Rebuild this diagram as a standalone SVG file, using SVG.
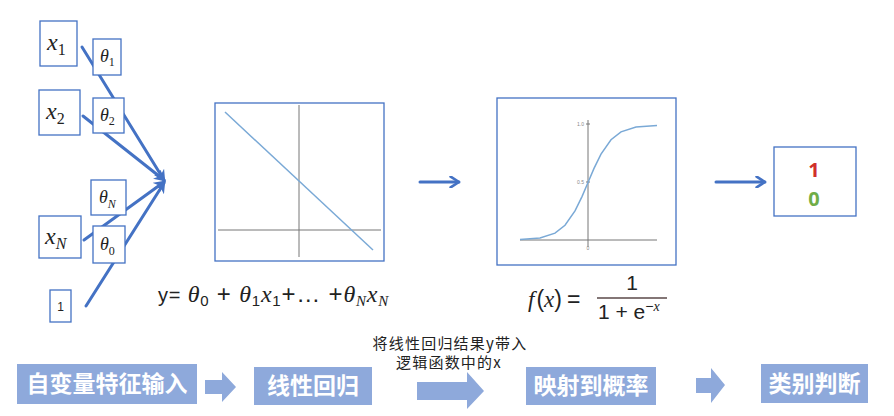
<svg xmlns="http://www.w3.org/2000/svg" width="894" height="416" viewBox="0 0 894 416">
<defs>
<style>
.box{fill:#fff;stroke:#4472C4;stroke-width:1.3}
.conn{stroke:#4472C4;stroke-width:3;fill:none;stroke-linecap:round}
.mx{font-family:"Liberation Serif",serif;font-style:italic;fill:#222}
.num{font-family:"Liberation Sans",sans-serif;fill:#222}
.axis{stroke:#777;stroke-width:1}
.curve{stroke:#7aa9d6;stroke-width:1.5;fill:none}
.step{fill:#8EA9DB}
.steptxt{font-family:"Noto Sans CJK SC",sans-serif;font-weight:bold;font-size:23px;fill:#fff;text-anchor:middle}
.note{font-family:"Noto Sans CJK SC",sans-serif;font-size:15px;letter-spacing:1.2px;fill:#222;text-anchor:middle}
.tick{font-family:"Liberation Sans",sans-serif;font-size:5px;fill:#888}
</style>
<marker id="ah" viewBox="0 0 10 10" refX="8" refY="5" markerWidth="4" markerHeight="4" orient="auto" markerUnits="strokeWidth">
<path d="M0,0 L10,5 L0,10 L3,5 Z" fill="#4472C4"/>
</marker>
<marker id="av" viewBox="0 0 10 10" refX="9" refY="5" markerWidth="4" markerHeight="4" orient="auto" markerUnits="strokeWidth">
<path d="M2,0.5 L9,5 L2,9.5" fill="none" stroke="#4472C4" stroke-width="2.2" stroke-linecap="round" stroke-linejoin="round"/>
</marker>
</defs>
<rect width="894" height="416" fill="#fff"/>

<g id="connectors">
<line class="conn" x1="82" y1="47" x2="164" y2="180" marker-end="url(#ah)"/>
<line class="conn" x1="83" y1="116" x2="164" y2="180" marker-end="url(#ah)"/>
<line class="conn" x1="84" y1="240" x2="164" y2="182" marker-end="url(#ah)"/>
<line class="conn" x1="86" y1="306" x2="164" y2="183" marker-end="url(#ah)"/>
<line class="conn" x1="420" y1="182" x2="459" y2="182" marker-end="url(#av)"/>
<line class="conn" x1="716" y1="182" x2="765" y2="182" marker-end="url(#av)"/>
</g>

<g id="x1"><rect class="box" x="40" y="21" width="37" height="45"/><text class="mx" x="47" y="50" font-size="24">x<tspan font-size="16" dy="5" font-style="normal">1</tspan></text></g>
<g id="theta1"><rect class="box" x="93" y="39" width="28" height="36"/><text class="mx" x="100" y="62" font-size="18">θ<tspan font-size="12" dy="4" font-style="normal">1</tspan></text></g>
<g id="x2"><rect class="box" x="39" y="90" width="41" height="45"/><text class="mx" x="46" y="119" font-size="24">x<tspan font-size="16" dy="5" font-style="normal">2</tspan></text></g>
<g id="theta2"><rect class="box" x="93" y="98" width="31" height="35"/><text class="mx" x="100" y="121" font-size="18">θ<tspan font-size="12" dy="4" font-style="normal">2</tspan></text></g>
<g id="thetaN"><rect class="box" x="91" y="180" width="35" height="35"/><text class="mx" x="99" y="203" font-size="18">θ<tspan font-size="12" dy="5">N</tspan></text></g>
<g id="xN"><rect class="box" x="39" y="216" width="42" height="42"/><text class="mx" x="45" y="244" font-size="24">x<tspan font-size="16" dy="5">N</tspan></text></g>
<g id="theta0"><rect class="box" x="93" y="226" width="32" height="37"/><text class="mx" x="100" y="250" font-size="18">θ<tspan font-size="12" dy="5" font-style="normal">0</tspan></text></g>
<g id="one"><rect class="box" x="50" y="290" width="21" height="32"/><text class="num" x="60.5" y="311" font-size="12" text-anchor="middle">1</text></g>

<g id="linear">
<rect class="box" x="215" y="103" width="169" height="158"/>
<line class="axis" x1="299" y1="105" x2="299" y2="257"/>
<line class="axis" x1="218" y1="230" x2="381" y2="230"/>
<line x1="225" y1="112" x2="373" y2="250" stroke="#7aa9d6" stroke-width="1.5"/>
<text x="158" y="302" font-size="24" letter-spacing="0.8"><tspan class="num" font-size="20">y= </tspan><tspan class="mx">θ</tspan><tspan class="num" font-size="15" dy="4">0</tspan><tspan class="num" dy="-4"> + </tspan><tspan class="mx">θ</tspan><tspan class="num" font-size="15" dy="4">1</tspan><tspan class="mx" dy="-4">x</tspan><tspan class="num" font-size="15" dy="4">1</tspan><tspan class="num" dy="-4">+… +</tspan><tspan class="mx">θ</tspan><tspan class="mx" font-size="15" dy="4">N</tspan><tspan class="mx" dy="-4">x</tspan><tspan class="mx" font-size="15" dy="4">N</tspan></text>
</g>

<g id="sigmoid">
<rect class="box" x="497" y="98" width="179" height="167"/>
<line class="axis" x1="588" y1="120" x2="588" y2="247"/>
<line class="axis" x1="520" y1="240" x2="657" y2="240"/>
<line class="axis" x1="586" y1="124" x2="590" y2="124" stroke-width="0.6"/>
<line class="axis" x1="586" y1="182" x2="590" y2="182" stroke-width="0.6"/>
<text class="tick" x="584" y="126" text-anchor="end">1.0</text>
<text class="tick" x="584" y="184" text-anchor="end">0.5</text>
<text class="tick" x="588" y="250" text-anchor="middle">0</text>
<path class="curve" d="M520,239.6 L540,237.9 L555,233.1 L565,225.3 L575,210.9 L582,196.6 L588,182.5 L594,168.4 L601,154.1 L611,139.7 L621,131.9 L636,127.1 L657,125.4"/>
<text x="528" y="307" font-size="23"><tspan class="mx">f</tspan><tspan class="num" fill="#7f6060" dx="2">(</tspan><tspan class="mx">x</tspan><tspan class="num" fill="#7f6060">)</tspan><tspan class="num" dx="5">=</tspan></text>
<line x1="597" y1="298" x2="667" y2="298" stroke="#5a4848" stroke-width="1.6"/>
<text class="num" x="632" y="290" font-size="21" text-anchor="middle">1</text>
<text x="598" y="319" font-size="21"><tspan class="num">1 + e</tspan><tspan class="num" font-size="14" dy="-8">−</tspan><tspan class="mx" font-size="14">x</tspan></text>
</g>

<g id="output">
<rect class="box" x="774" y="147" width="82" height="69"/>
<text x="814" y="177" font-family="Noto Sans,sans-serif" font-weight="bold" font-size="20" fill="#D0302A" text-anchor="middle">1</text>
<text x="814" y="206" font-family="Noto Sans,sans-serif" font-weight="bold" font-size="20" fill="#70AD47" text-anchor="middle">0</text>
</g>

<g id="step1"><rect class="step" x="17" y="364" width="180" height="40"/><text class="steptxt" x="107" y="392">自变量特征输入</text></g>
<g id="arrow1"><path class="step" d="M205,380 L222,380 L222,372 L236,387 L222,402 L222,394 L205,394 Z"/></g>
<g id="step2"><rect class="step" x="254" y="367" width="118" height="38"/><text class="steptxt" x="313" y="394">线性回归</text></g>
<g id="arrow2">
<text class="note" x="450" y="349">将线性回归结果y带入</text>
<text class="note" x="449" y="368">逻辑函数中的x</text>
<path class="step" d="M417,382 L467,382 L467,372 L484,391 L467,409 L467,400 L417,400 Z"/>
</g>
<g id="step3"><rect class="step" x="526" y="367" width="130" height="38"/><text class="steptxt" x="591" y="394">映射到概率</text></g>
<g id="arrow3"><path class="step" d="M696,378 L711,378 L711,368 L725,385 L711,403 L711,393 L696,393 Z"/></g>
<g id="step4"><rect class="step" x="761" y="364" width="107" height="39"/><text class="steptxt" x="814.5" y="392">类别判断</text></g>
</svg>
